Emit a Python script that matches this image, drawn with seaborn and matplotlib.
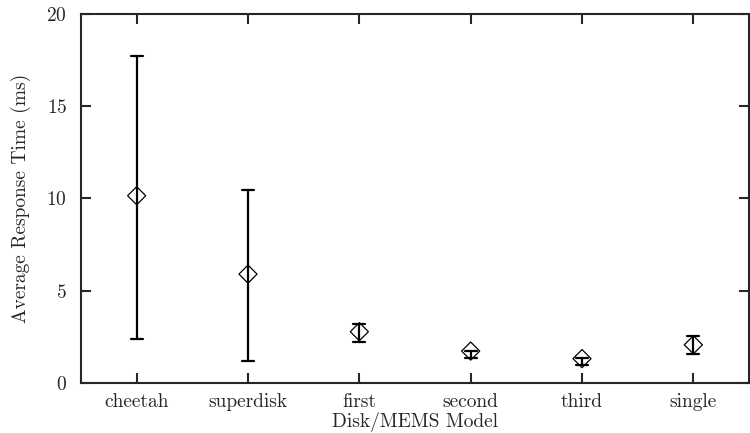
import matplotlib
matplotlib.use("Agg")
import matplotlib.pyplot as plt
import numpy as np
import pandas as pd
import seaborn as sns

# values (ms)
models = ["cheetah", "superdisk", "first", "second", "third", "single"]
mean_time = [10.15, 5.9, 2.78, 1.73, 1.32, 2.07]
low_time = [2.4, 1.2, 2.2, 1.33, 0.98, 1.57]
high_time = [17.7, 10.46, 3.2, 1.75, 1.34, 2.52]

# one row per (model, low/mean/high) so the median is the mean
# and min/max give the bar ends
rows = []
for m, lo, mu, hi in zip(models, low_time, mean_time, high_time):
    for v in (lo, mu, hi):
        rows.append({"model": m, "time": v})
df = pd.DataFrame(rows)

sns.set_style("ticks")
plt.rcParams["font.family"] = ["cmr10", "DejaVu Serif"]
plt.rcParams["mathtext.fontset"] = "cm"
plt.rcParams["axes.formatter.use_mathtext"] = True
plt.rcParams["axes.linewidth"] = 1.5
plt.rcParams["xtick.direction"] = "in"
plt.rcParams["ytick.direction"] = "in"

fig = plt.figure(figsize=(7.5, 4.33), dpi=100)
ax = fig.add_axes([0.108, 0.1155, 0.8907, 0.8522])

sns.pointplot(
    data=df,
    x="model",
    y="time",
    order=models,
    estimator=np.median,
    errorbar=lambda v: (v.min(), v.max()),
    linestyle="none",
    markersize=0,
    color="black",
    capsize=0.11,
    err_kws={"linewidth": 1.6},
    ax=ax,
    zorder=2,
)
# open diamonds for the averages
sns.scatterplot(
    x=models,
    y=mean_time,
    marker="D",
    s=85,
    facecolor="none",
    edgecolor="black",
    linewidth=0.9,
    ax=ax,
    zorder=3,
)

ax.set_xlim(-0.5, 5.5)
ax.set_ylim(0, 20)
ax.set_yticks([0, 5, 10, 15, 20])
ax.set_xlabel("Disk/MEMS Model", fontsize=14, labelpad=1)
ax.set_ylabel("Average Response Time (ms)", fontsize=14, labelpad=11)
ax.tick_params(axis="both", labelsize=14, length=7, width=1.5,
               top=True, right=True, direction="in")
ax.tick_params(axis="x", pad=7)
ax.tick_params(axis="y", pad=10)
for s in ax.spines.values():
    s.set_visible(True)
    s.set_linewidth(1.5)

fig.savefig("out.png", dpi=100)
